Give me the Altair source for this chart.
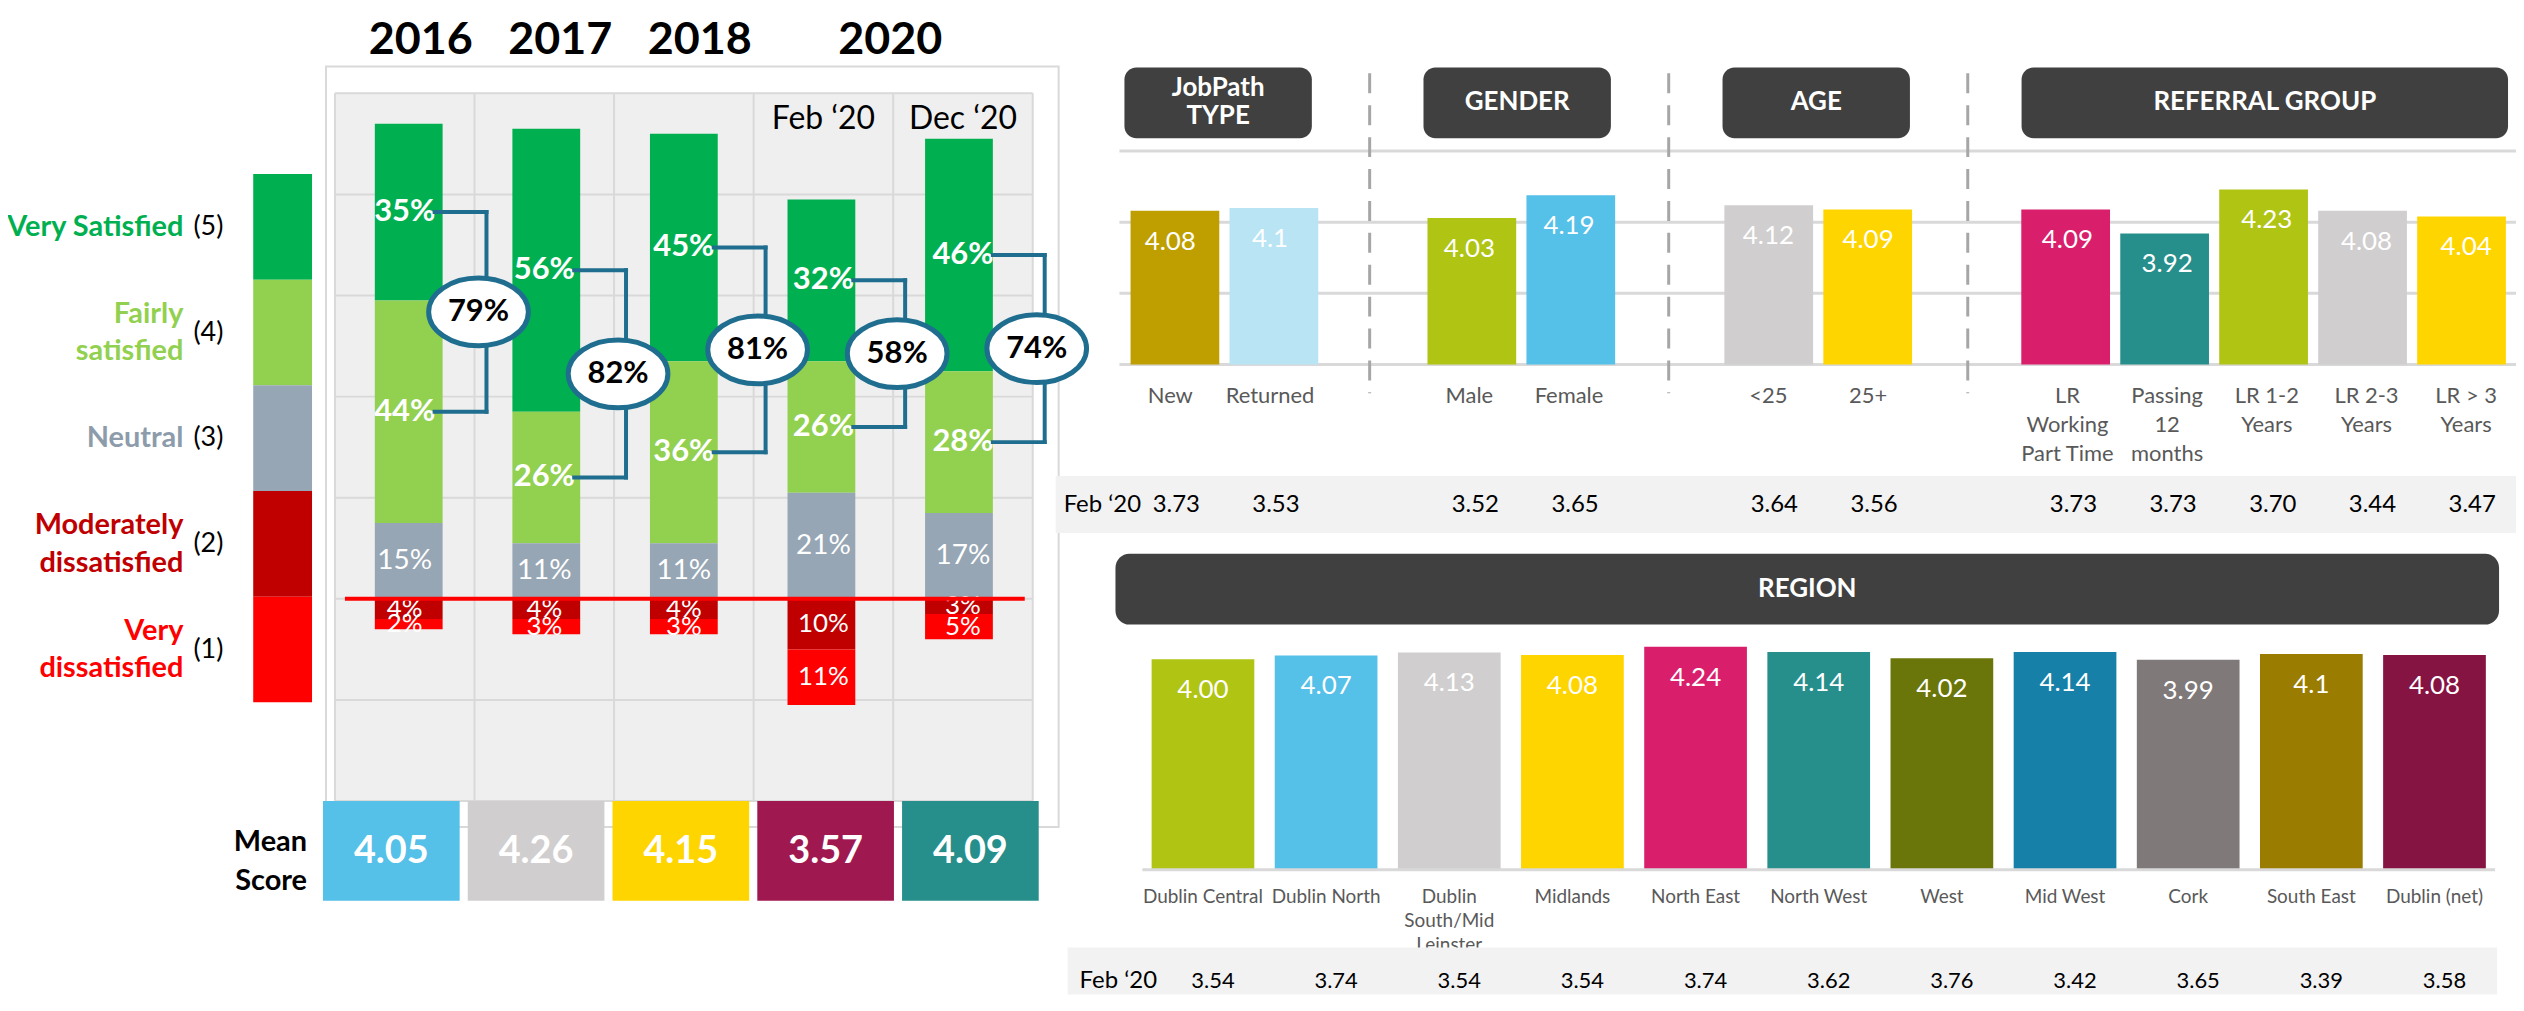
import altair as alt
import pandas as pd

# ------------------------------------------------------------------ data
periods = ["2016", "2017", "2018", "Feb ‘20", "Dec ‘20"]
period_year = ["2016", "2017", "2018", "2020", "2020"]
very_satisfied = [35, 56, 45, 32, 46]
fairly_satisfied = [44, 26, 36, 26, 28]
neutral = [15, 11, 11, 21, 17]
moderately_dissatisfied = [4, 4, 4, 10, 3]
very_dissatisfied = [2, 3, 3, 11, 5]
mean_scores = ["4.05", "4.26", "4.15", "3.57", "4.09"]
left_gridlines = [-40, -20, 0, 20, 40, 60, 80, 100]

level_keys = ["vs", "fs", "neu", "md", "vd"]
level_names = ["Very Satisfied", "Fairly\nsatisfied", "Neutral",
               "Moderately\ndissatisfied", "Very\ndissatisfied"]
level_codes = ["(5)", "(4)", "(3)", "(2)", "(1)"]

segment_groups = ["JobPath\nTYPE", "GENDER", "AGE", "REFERRAL GROUP"]
segment_categories = ["New", "Returned", "Male", "Female", "<25", "25+",
                      "LR\nWorking\nPart Time", "Passing\n12\nmonths",
                      "LR 1-2\nYears", "LR 2-3\nYears", "LR > 3\nYears"]
segment_group_index = [0, 0, 1, 1, 2, 2, 3, 3, 3, 3, 3]
segment_scores = ["4.08", "4.1", "4.03", "4.19", "4.12", "4.09",
                  "4.09", "3.92", "4.23", "4.08", "4.04"]
segment_feb20 = [3.73, 3.53, 3.52, 3.65, 3.64, 3.56, 3.73, 3.73, 3.70, 3.44, 3.47]
segment_gridlines = [3.0, 3.5, 4.0, 4.5]

regions = ["Dublin Central", "Dublin North", "Dublin\nSouth/Mid\nLeinster", "Midlands",
           "North East", "North West", "West", "Mid West", "Cork", "South East",
           "Dublin (net)"]
region_scores = ["4.00", "4.07", "4.13", "4.08", "4.24", "4.14", "4.02", "4.14",
                 "3.99", "4.1", "4.08"]
region_feb20 = [3.54, 3.74, 3.54, 3.54, 3.74, 3.62, 3.76, 3.42, 3.65, 3.39, 3.58]

# ------------------------------------------------------------------ styles
FONT = "Lato"
level_colors = ["#00B050", "#92D050", "#97A6B4", "#C00000", "#FF0000"]
legend_text_colors = ["#00B050", "#92D050", "#8D9CAB", "#C00000", "#FF0000"]
mean_colors = ["#55C0E8", "#D0CECE", "#FFD500", "#A01850", "#268F8C"]
segment_colors = ["#BF9F00", "#B9E4F4", "#B0C414", "#55C0E8", "#D0CECE", "#FFD500",
                  "#D91F6C", "#268F8C", "#B0C414", "#D0CECE", "#FFD500"]
region_colors = ["#B0C414", "#55C0E8", "#D0CECE", "#FFD500", "#D91F6C", "#268F8C",
                 "#6B760A", "#1780A8", "#7F7979", "#9A7D00", "#861443"]
BRACKET = "#1F6E8F"
HEADER = "#404040"
GRID = "#D9D9D9"
LABEL_GRAY = "#595959"
BAND = "#F2F2F2"
ELLIPSE = ("M-1,0 C-1,-0.376 -0.552,-0.68 0,-0.68 C0.552,-0.68 1,-0.376 1,0 "
           "C1,0.376 0.552,0.68 0,0.68 C-0.552,0.68 -1,0.376 -1,0 Z")
MULTI = "indexof(datum.{f}, '\\n') >= 0"
SINGLE = "indexof(datum.{f}, '\\n') < 0"

one = pd.DataFrame({"k": [0]})
layers = []

# ================================================================== LEFT PANEL
Lx = alt.Scale(domain=[-0.5, len(periods) - 0.5], range=[328, 1028], nice=False, zero=False)
Ly = alt.Scale(domain=[left_gridlines[0], left_gridlines[-1]], range=[794, 84], nice=False, zero=False)

# frame and plot background
layers.append(alt.Chart(one).mark_rect(fill="white", stroke=GRID, strokeWidth=2).encode(
    x=alt.value(319), x2=alt.value(1054), y=alt.value(57), y2=alt.value(820)))
layers.append(alt.Chart(one).mark_rect(fill="#EFEFEF").encode(
    x=alt.value(328), x2=alt.value(1028), y=alt.value(84), y2=alt.value(794)))

vgrid = pd.DataFrame({"b": [i - 0.5 for i in range(len(periods) + 1)]})
layers.append(alt.Chart(vgrid).mark_rule(color=GRID, strokeWidth=2).encode(
    x=alt.X("b:Q", scale=Lx, axis=None), y=alt.value(84), y2=alt.value(794)))
hgrid = pd.DataFrame({"g": left_gridlines})
layers.append(alt.Chart(hgrid).mark_rule(color=GRID, strokeWidth=2).encode(
    y=alt.Y("g:Q", scale=Ly, axis=None), x=alt.value(328), x2=alt.value(1028)))

# diverging stacked bars
series = [very_satisfied, fairly_satisfied, neutral, moderately_dissatisfied, very_dissatisfied]
signs = [1, 1, 1, -1, -1]
stack_order = [4, 3, 1, 2, 5]
rows = []
for i, p in enumerate(periods):
    for k, s, sg, o, c in zip(level_keys, series, signs, stack_order, level_colors):
        rows.append(dict(period=p, idx=i, key=k, value=sg * s[i], pct=s[i], ord=o, color=c))
sat = pd.DataFrame(rows)

base = alt.Chart(sat).transform_stack(
    stack="value", groupby=["period"], as_=["v0", "v1"],
    sort=[alt.SortField("ord", order="ascending")], offset="zero"
).transform_calculate(mid="(datum.v0 + datum.v1) / 2", lab="datum.pct + '%'")

layers.append(base.mark_bar(size=68).encode(
    x=alt.X("idx:Q", scale=Lx, axis=None),
    y=alt.Y("v0:Q", scale=Ly, axis=None), y2="v1:Q",
    color=alt.Color("color:N", scale=None)))

lab_enc = dict(x=alt.X("idx:Q", scale=Lx, axis=None),
               y=alt.Y("mid:Q", scale=Ly, axis=None), text="lab:N")
layers.append(base.transform_filter("datum.key == 'vs' || datum.key == 'fs'").mark_text(
    font=FONT, fontSize=31, fontWeight="bold", color="white").encode(**lab_enc))
layers.append(base.transform_filter("datum.key == 'neu'").mark_text(
    font=FONT, fontSize=28, color="white").encode(**lab_enc))
layers.append(base.transform_filter("datum.key == 'md' || datum.key == 'vd'").mark_text(
    font=FONT, fontSize=26, color="white").encode(**lab_enc))

# zero line
zero_df = pd.DataFrame({"z": [0]})
layers.append(alt.Chart(zero_df).mark_rule(color="#FF0000", strokeWidth=4).encode(
    y=alt.Y("z:Q", scale=Ly, axis=None), x=alt.value(338), x2=alt.value(1020)))

# brackets with combined satisfaction
br = pd.DataFrame({
    "idx": list(range(len(periods))),
    "top": [n + f + v / 2 for n, f, v in zip(neutral, fairly_satisfied, very_satisfied)],
    "bot": [n + f / 2 for n, f in zip(neutral, fairly_satisfied)],
    "tot": [f"{v + f}%" for v, f in zip(very_satisfied, fairly_satisfied)],
})
br["mid"] = (br["top"] + br["bot"]) / 2
bx = alt.X("idx:Q", scale=Lx, axis=None)
for fld in ["top", "bot"]:
    layers.append(alt.Chart(br).mark_rule(color=BRACKET, strokeWidth=4, strokeCap="square",
                                          xOffset=30, x2Offset=82).encode(
        x=bx, x2="idx:Q", y=alt.Y(f"{fld}:Q", scale=Ly, axis=None)))
layers.append(alt.Chart(br).mark_rule(color=BRACKET, strokeWidth=4, strokeCap="square",
                                      xOffset=82).encode(
    x=bx, y=alt.Y("top:Q", scale=Ly, axis=None), y2="bot:Q"))
layers.append(alt.Chart(br).mark_point(shape=ELLIPSE, size=10000, filled=True, fill="white",
                                       stroke=BRACKET, strokeWidth=5, opacity=1,
                                       fillOpacity=1, strokeOpacity=1, xOffset=74).encode(
    x=bx, y=alt.Y("mid:Q", scale=Ly, axis=None)))
layers.append(alt.Chart(br).mark_text(font=FONT, fontSize=31, fontWeight="bold",
                                      color="black", dx=74).encode(
    x=bx, y=alt.Y("mid:Q", scale=Ly, axis=None), text="tot:N"))

# year headers and sub-period labels
pdf = pd.DataFrame({"period": periods, "idx": list(range(len(periods))), "year": period_year})
ydf = pdf.groupby("year", as_index=False).agg(idx=("idx", "mean"), n=("idx", "size"))
for cond, dx in [(ydf["n"] == 1, 16), (ydf["n"] > 1, -3)]:
    layers.append(alt.Chart(ydf[cond]).mark_text(font=FONT, fontSize=45, fontWeight="bold",
                                                 color="black", dx=dx).encode(
        x=alt.X("idx:Q", scale=Lx, axis=None), y=alt.value(31), text="year:N"))
multi = pdf[pdf["year"].map(pdf["year"].value_counts()) > 1]
layers.append(alt.Chart(multi).mark_text(font=FONT, fontSize=32, color="black").encode(
    x=alt.X("idx:Q", scale=Lx, axis=None), y=alt.value(110), text="period:N"))

# legend column
Lg = alt.Scale(type="band", domain=level_keys, range=[165, 695], paddingInner=0, paddingOuter=0)
leg = pd.DataFrame({"key": level_keys, "name": level_names, "code": level_codes,
                    "color": level_colors, "tcolor": legend_text_colors})
layers.append(alt.Chart(leg).mark_rect().encode(
    y=alt.Y("key:N", scale=Lg, axis=None), x=alt.value(246), x2=alt.value(305),
    color=alt.Color("color:N", scale=None)))
for flt, dy in [(SINGLE.format(f="name"), 0), (MULTI.format(f="name"), -19)]:
    layers.append(alt.Chart(leg).transform_filter(flt).mark_text(
        font=FONT, align="right", fontSize=29, fontWeight="bold",
        lineBreak="\n", lineHeight=38, dy=dy).encode(
        y=alt.Y("key:N", scale=Lg, axis=None), x=alt.value(176), text="name:N",
        color=alt.Color("tcolor:N", scale=None)))
layers.append(alt.Chart(leg).mark_text(font=FONT, align="left", fontSize=27, color="black").encode(
    y=alt.Y("key:N", scale=Lg, axis=None), x=alt.value(186), text="code:N"))

# mean score row
Mx = alt.Scale(type="band", domain=periods, range=[316, 1034], paddingInner=0.056, paddingOuter=0)
mdf = pd.DataFrame({"period": periods, "score": mean_scores, "color": mean_colors})
layers.append(alt.Chart(mdf).mark_rect().encode(
    x=alt.X("period:N", scale=Mx, axis=None), y=alt.value(794), y2=alt.value(894),
    color=alt.Color("color:N", scale=None)))
layers.append(alt.Chart(mdf).mark_text(font=FONT, fontSize=38, fontWeight="bold", color="white").encode(
    x=alt.X("period:N", scale=Mx, axis=None), y=alt.value(845), text="score:N"))
layers.append(alt.Chart(one).mark_text(font=FONT, fontSize=29, fontWeight="bold", color="black",
                                       align="right", lineBreak="\n", lineHeight=39, dy=-19,
                                       text="Mean\nScore").encode(
    x=alt.value(300), y=alt.value(854)))

# ================================================================== TOP RIGHT PANEL
seg_slot = [i + g for i, g in enumerate(segment_group_index)]
Sx = alt.Scale(domain=[-0.5, max(seg_slot) + 0.5], range=[1116, 2516], nice=False, zero=False)
Sy = alt.Scale(domain=[segment_gridlines[0], segment_gridlines[-1]], range=[356, 142],
               nice=False, zero=False)

sdf = pd.DataFrame({"cat": segment_categories, "slot": seg_slot, "txt": segment_scores,
                    "score": [float(s) for s in segment_scores], "feb": segment_feb20,
                    "color": segment_colors, "base": segment_gridlines[0]})
gdf = pd.DataFrame({"name": segment_groups,
                    "s": [min(s for s, g in zip(seg_slot, segment_group_index) if g == j)
                          for j in range(len(segment_groups))],
                    "e": [max(s for s, g in zip(seg_slot, segment_group_index) if g == j)
                          for j in range(len(segment_groups))]})
gdf["gap"] = gdf["s"] - 1

# gridlines
layers.append(alt.Chart(pd.DataFrame({"g": segment_gridlines})).mark_rule(
    color=GRID, strokeWidth=3).encode(
    y=alt.Y("g:Q", scale=Sy, axis=None), x=alt.value(1115), x2=alt.value(2516)))
# dashed separators
layers.append(alt.Chart(gdf[gdf["gap"] > 0]).mark_rule(
    color="#A6A6A6", strokeWidth=3, strokeDash=[20, 12]).encode(
    x=alt.X("gap:Q", scale=Sx, axis=None), y=alt.value(64), y2=alt.value(385)))
# header boxes
hb = alt.Chart(gdf).transform_calculate(xs="datum.s - 0.46", xe="datum.e + 0.42",
                                        xc="(datum.s + datum.e) / 2 - 0.02")
layers.append(hb.mark_rect(color=HEADER, cornerRadius=12).encode(
    x=alt.X("xs:Q", scale=Sx, axis=None), x2="xe:Q", y=alt.value(58), y2=alt.value(129)))
for flt, dy in [(SINGLE.format(f="name"), 0), (MULTI.format(f="name"), -14)]:
    layers.append(hb.transform_filter(flt).mark_text(
        font=FONT, fontSize=26, fontWeight="bold", color="white",
        lineBreak="\n", lineHeight=28, dy=dy).encode(
        x=alt.X("xc:Q", scale=Sx, axis=None), y=alt.value(93), text="name:N"))
# bars
layers.append(alt.Chart(sdf).mark_bar(size=89).encode(
    x=alt.X("slot:Q", scale=Sx, axis=None),
    y=alt.Y("score:Q", scale=Sy, axis=None), y2="base:Q",
    color=alt.Color("color:N", scale=None)))
layers.append(alt.Chart(sdf).mark_text(font=FONT, fontSize=26, color="white",
                                       baseline="top", dy=18).encode(
    x=alt.X("slot:Q", scale=Sx, axis=None),
    y=alt.Y("score:Q", scale=Sy, axis=None), text="txt:N"))
layers.append(alt.Chart(sdf).mark_text(font=FONT, fontSize=22, color=LABEL_GRAY, baseline="top",
                                       lineBreak="\n", lineHeight=29).encode(
    x=alt.X("slot:Q", scale=Sx, axis=None), y=alt.value(378), text="cat:N"))
# Feb '20 row
layers.append(alt.Chart(one).mark_rect(color=BAND).encode(
    x=alt.value(1051), x2=alt.value(2516), y=alt.value(468), y2=alt.value(525)))
layers.append(alt.Chart(one).mark_text(font=FONT, fontSize=24, color="black", align="left",
                                       text="Feb ‘20").encode(x=alt.value(1059), y=alt.value(497)))
layers.append(alt.Chart(sdf).mark_text(font=FONT, fontSize=24, color="black", dx=6).encode(
    x=alt.X("slot:Q", scale=Sx, axis=None), y=alt.value(497),
    text=alt.Text("feb:Q", format=".2f")))

# ================================================================== REGION PANEL
Rx = alt.Scale(type="band", domain=regions, range=[1137, 2496], paddingInner=0.166, paddingOuter=0.083)
Ry = alt.Scale(domain=[0, 5], range=[863, 599], nice=False, zero=True)
rdf = pd.DataFrame({"region": regions, "txt": region_scores,
                    "score": [float(s) for s in region_scores], "feb": region_feb20,
                    "color": region_colors, "base": 0})

layers.append(alt.Chart(one).mark_rect(color=HEADER, cornerRadius=14).encode(
    x=alt.value(1111), x2=alt.value(2499), y=alt.value(546), y2=alt.value(617)))
layers.append(alt.Chart(one).mark_text(font=FONT, fontSize=26, fontWeight="bold", color="white",
                                       text="REGION").encode(x=alt.value(1805), y=alt.value(581)))
layers.append(alt.Chart(rdf).mark_bar().encode(
    x=alt.X("region:N", scale=Rx, axis=None),
    y=alt.Y("score:Q", scale=Ry, axis=None), y2="base:Q",
    color=alt.Color("color:N", scale=None)))
layers.append(alt.Chart(pd.DataFrame({"z": [0]})).mark_rule(color=GRID, strokeWidth=3).encode(
    y=alt.Y("z:Q", scale=Ry, axis=None), x=alt.value(1138), x2=alt.value(2495)))
layers.append(alt.Chart(rdf).mark_text(font=FONT, fontSize=26, color="white",
                                       baseline="top", dy=18).encode(
    x=alt.X("region:N", scale=Rx, axis=None),
    y=alt.Y("score:Q", scale=Ry, axis=None), text="txt:N"))
layers.append(alt.Chart(rdf).mark_text(font=FONT, fontSize=19, color=LABEL_GRAY, baseline="top",
                                       lineBreak="\n", lineHeight=24).encode(
    x=alt.X("region:N", scale=Rx, axis=None), y=alt.value(881), text="region:N"))
layers.append(alt.Chart(one).mark_rect(color=BAND).encode(
    x=alt.value(1063), x2=alt.value(2497), y=alt.value(941), y2=alt.value(988)))
layers.append(alt.Chart(one).mark_text(font=FONT, fontSize=24, color="black", align="left",
                                       text="Feb ‘20").encode(x=alt.value(1075), y=alt.value(975)))
layers.append(alt.Chart(rdf).mark_text(font=FONT, fontSize=22, color="black", dx=10).encode(
    x=alt.X("region:N", scale=Rx, axis=None), y=alt.value(975),
    text=alt.Text("feb:Q", format=".2f")))

chart = alt.layer(*layers).resolve_scale(
    x="independent", y="independent"
).properties(
    width=2516, height=988, autosize="none", padding=0
).configure_view(stroke=None)

chart.save("out.html", embed_options={"renderer": "svg", "actions": False})
